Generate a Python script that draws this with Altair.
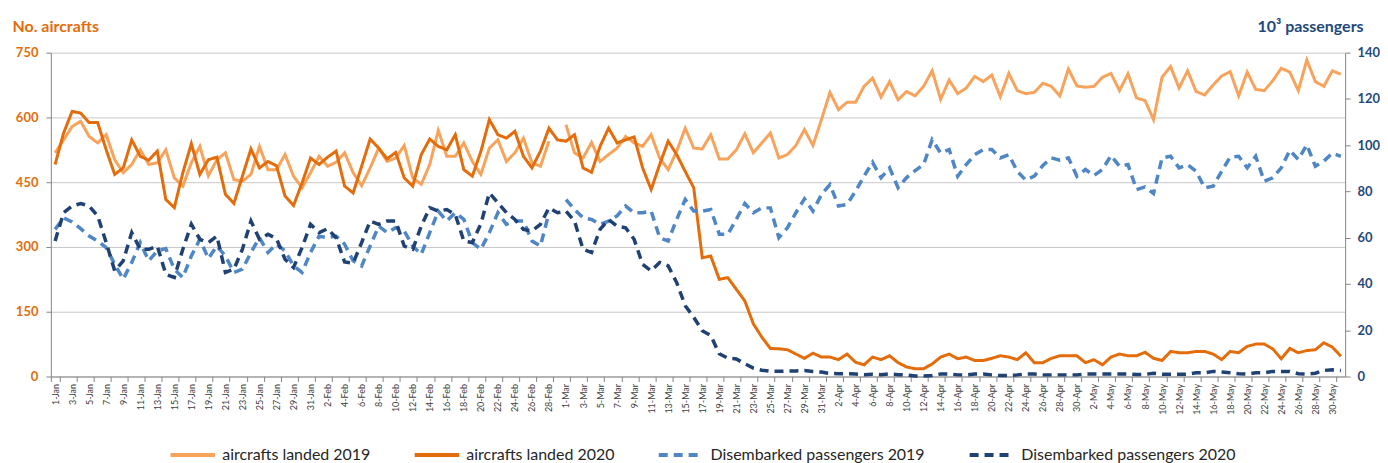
import altair as alt
import pandas as pd

# ---------------- data ----------------
dates = pd.date_range("2020-01-01", "2020-05-31", freq="D")
day_labels = [f"{d.day}-{d.strftime('%b')}" for d in dates]

aircraft_2019 = [
    518, 548, 579, 591, 556, 541, 560, 502, 472, 491, 525, 491, 495, 525, 460, 441, 495, 533, 465, 502,
    518, 456, 452, 468, 533, 479, 479, 514, 464, 437, 472, 510, 487, 496, 518, 472, 442, 483, 529, 498,
    506, 535, 460, 445, 491, 570, 510, 510, 541, 498, 468, 529, 548, 498, 518, 552, 495, 487, 545, None,
    583, 518, 506, 542, 498, 514, 529, 556, 541, 533, 560, 506, 479, 522, 575, 529, 527, 560, 504, 504,
    525, 562, 518, 541, 564, 506, 514, 535, 572, 535, 595, 658, 618, 635, 635, 672, 691, 647, 683, 641,
    660, 650, 672, 708, 642, 687, 655, 668, 695, 683, 698, 648, 702, 662, 655, 658, 679, 672, 650, 712,
    673, 670, 672, 693, 702, 662, 701, 645, 639, 595, 693, 718, 668, 708, 660, 652, 675, 696, 706, 650,
    705, 665, 662, 685, 714, 705, 662, 733, 683, 672, 708, 700,
]
aircraft_2020 = [
    491, 564, 614, 610, 588, 588, 525, 468, 483, 548, 510, 501, 522, 410, 391, 472, 539, 468, 502, 508,
    422, 401, 464, 527, 483, 498, 488, 418, 396, 448, 506, 491, 508, 522, 441, 425, 487, 550, 529, 504,
    519, 460, 441, 514, 550, 533, 525, 560, 479, 464, 521, 595, 560, 552, 568, 510, 483, 522, 575, 548,
    545, 560, 483, 473, 533, 575, 541, 548, 555, 483, 433, 491, 545, 514, 475, 437, 275, 279, 225, 229,
    202, 175, 122, 91, 65, 64, 62, 52, 42, 54, 45, 45, 39, 52, 33, 27, 45, 39, 48, 32,
    22, 18, 18, 29, 45, 52, 41, 45, 37, 37, 42, 48, 45, 39, 55, 32, 32, 42, 48, 48,
    48, 32, 39, 27, 45, 52, 48, 48, 56, 42, 37, 58, 55, 55, 58, 58, 52, 39, 58, 55,
    70, 75, 75, 64, 41, 65, 55, 60, 62, 78, 68, 47,
]
passengers_2019 = [
    63.6, 68.6, 66.8, 63.9, 60.7, 58.6, 55.7, 48.5, 42.1, 49.3, 57.9, 50.0, 54.3, 55.3, 46.4, 42.8, 52.1, 59.3, 51.0, 56.4,
    52.1, 45.0, 46.4, 53.6, 60.0, 53.6, 57.2, 54.3, 47.8, 45.0, 53.6, 60.7, 60.0, 60.7, 57.2, 50.0, 47.8, 56.4, 65.0, 62.2,
    64.3, 62.9, 56.4, 52.8, 62.2, 71.5, 67.2, 70.8, 67.9, 57.9, 55.0, 62.2, 70.8, 65.8, 67.2, 67.2, 58.6, 56.4, 70.8, None,
    76.5, 72.2, 68.6, 67.9, 65.8, 67.2, 69.4, 73.7, 70.8, 70.8, 71.5, 60.0, 58.6, 67.9, 76.5, 71.5, 71.5, 72.2, 61.5, 61.5,
    67.9, 74.8, 70.8, 72.9, 72.9, 60.0, 64.3, 70.8, 76.8, 71.5, 78.7, 83.0, 73.7, 74.4, 80.1, 86.6, 92.6, 85.9, 90.2, 81.6,
    86.0, 89.0, 91.6, 102.4, 96.6, 98.1, 86.6, 91.6, 95.9, 98.1, 98.1, 94.5, 95.9, 88.7, 84.9, 86.6, 91.2, 94.5, 93.5, 94.5,
    86.6, 89.5, 86.9, 89.5, 95.5, 90.9, 91.6, 80.8, 82.0, 79.1, 94.5, 95.2, 90.2, 91.6, 88.7, 81.6, 82.3, 88.7, 94.9, 95.2,
    90.2, 95.2, 84.4, 85.9, 90.2, 97.8, 93.8, 100.2, 90.9, 93.1, 96.6, 95.2,
]
passengers_2020 = [
    58.6, 70.8, 73.7, 74.8, 73.7, 69.4, 57.9, 45.7, 50.0, 62.2, 55.0, 55.0, 56.4, 44.2, 42.8, 55.0, 65.8, 59.3, 57.9, 60.7,
    45.0, 46.4, 55.0, 67.2, 59.3, 61.5, 59.6, 50.7, 47.1, 55.7, 65.8, 62.2, 63.9, 60.0, 49.5, 49.0, 57.9, 67.2, 65.8, 67.2,
    67.2, 56.4, 55.0, 65.0, 73.0, 71.5, 72.2, 70.0, 58.6, 57.9, 66.0, 79.4, 75.1, 70.8, 67.9, 63.6, 62.9, 65.8, 72.9, 70.8,
    71.5, 67.2, 55.0, 53.6, 63.6, 67.9, 65.0, 64.3, 59.3, 48.5, 45.7, 49.3, 47.8, 40.6, 30.6, 25.6, 19.8, 17.7, 9.8, 7.9,
    7.6, 5.5, 3.6, 2.7, 2.3, 2.3, 2.3, 2.4, 2.6, 2.2, 1.9, 1.3, 1.2, 1.2, 1.1, 0.8, 1.0, 0.8, 1.1, 0.8,
    0.7, 0.2, 0.2, 0.4, 1.1, 1.1, 0.7, 0.7, 1.1, 1.1, 0.7, 0.4, 0.4, 0.7, 1.1, 1.1, 0.7, 0.7, 0.7, 0.7,
    0.7, 1.1, 1.1, 1.1, 1.1, 1.1, 1.1, 0.9, 0.9, 1.4, 1.0, 1.0, 1.0, 1.0, 1.6, 1.6, 2.2, 1.9, 1.6, 1.2,
    1.0, 1.6, 1.6, 2.2, 2.2, 2.2, 1.2, 1.0, 1.4, 2.6, 2.9, 2.6,
]

series_names = [
    "aircrafts landed 2019",
    "aircrafts landed 2020",
    "Disembarked passengers 2019",
    "Disembarked passengers 2020",
]
series_colors = ["#F8A35C", "#E46C0A", "#4F86C6", "#1F4173"]
series_dashes = [[1, 0], [1, 0], [9, 6], [9, 6]]

rows = []
for name, vals, kind in [
    (series_names[0], aircraft_2019, "aircraft"),
    (series_names[1], aircraft_2020, "aircraft"),
    (series_names[2], passengers_2019, "passengers"),
    (series_names[3], passengers_2020, "passengers"),
]:
    for lab, v in zip(day_labels, vals):
        rows.append({"day": lab, "series": name, "value": v, "kind": kind})
df = pd.DataFrame(rows)

# ---------------- encodings ----------------
ORANGE = "#E46C0A"
NAVY = "#1F497D"
AXIS_GRAY = "#868686"

x_enc = alt.X(
    "day:O",
    sort=day_labels,
    bandPosition=0.5,
    scale=alt.Scale(type="band", paddingInner=0, paddingOuter=0),
    axis=alt.Axis(
        values=day_labels[::2],
        labelAngle=-90,
        labelFontSize=9,
        labelColor="#404040",
        labelPadding=2,
        labelOverlap=False,
        tickBand="extent",
        tickSize=5,
        tickColor=AXIS_GRAY,
        domainColor=AXIS_GRAY,
        grid=False,
        title=None,
    ),
)

legend_def = alt.Legend(
    title=None,
    orient="none",
    legendX=118,
    legendY=379,
    direction="horizontal",
    symbolType="stroke",
    symbolSize=2000,
    symbolStrokeWidth=4,
    labelFontSize=16,
    labelLimit=500,
    labelColor="#262626",
    labelOffset=5,
    columnPadding=36,
    padding=0,
)

color_enc = alt.Color(
    "series:N",
    scale=alt.Scale(domain=series_names, range=series_colors),
    legend=legend_def,
)
dash_enc = alt.StrokeDash(
    "series:N",
    scale=alt.Scale(domain=series_names, range=series_dashes),
    legend=legend_def,
)

base = alt.Chart(df)

aircraft = base.transform_filter(alt.datum.kind == "aircraft").mark_line(
    strokeWidth=3, invalid="break-paths-show-domains"
).encode(
    x=x_enc,
    y=alt.Y(
        "value:Q",
        scale=alt.Scale(domain=[0, 750], nice=False),
        axis=alt.Axis(
            values=[0, 150, 300, 450, 600, 750],
            title="No. aircrafts",
            titleAngle=0,
            titleAlign="left",
            titleBaseline="alphabetic",
            titleX=-39,
            titleY=-21,
            titleColor=ORANGE,
            titleFontSize=16,
            titleFontWeight="bold",
            labelColor=ORANGE,
            labelFontSize=13,
            labelFontWeight="bold",
            labelPadding=8,
            tickSize=5,
            tickColor=AXIS_GRAY,
            domainColor=AXIS_GRAY,
            grid=True,
            gridColor="#C8C8C8",
        ),
    ),
    color=color_enc,
    strokeDash=dash_enc,
)

passengers = base.transform_filter(alt.datum.kind == "passengers").mark_line(
    strokeWidth=3.5, invalid="break-paths-show-domains"
).encode(
    x=x_enc,
    y=alt.Y(
        "value:Q",
        scale=alt.Scale(domain=[0, 140], nice=False),
        axis=alt.Axis(
            orient="right",
            values=[0, 20, 40, 60, 80, 100, 120, 140],
            title="10³ passengers",
            titleAngle=0,
            titleAlign="right",
            titleBaseline="alphabetic",
            titleX=18,
            titleY=-21,
            titleColor=NAVY,
            titleFontSize=16,
            titleFontWeight="bold",
            labelColor=NAVY,
            labelFontSize=13,
            labelFontWeight="bold",
            labelPadding=7,
            tickSize=5,
            tickColor=AXIS_GRAY,
            domainColor=AXIS_GRAY,
            grid=False,
        ),
    ),
    color=color_enc,
    strokeDash=dash_enc,
)

chart = (
    alt.layer(aircraft, passengers)
    .resolve_scale(y="independent")
    .properties(
        width=1299,
        height=325,
        padding={"left": 4, "top": 10, "right": 0, "bottom": 0},
        background="white",
    )
    .configure(font="Lato")
    .configure_view(stroke=None)
)

chart.save("out.html", embed_options={"renderer": "svg", "actions": False})
